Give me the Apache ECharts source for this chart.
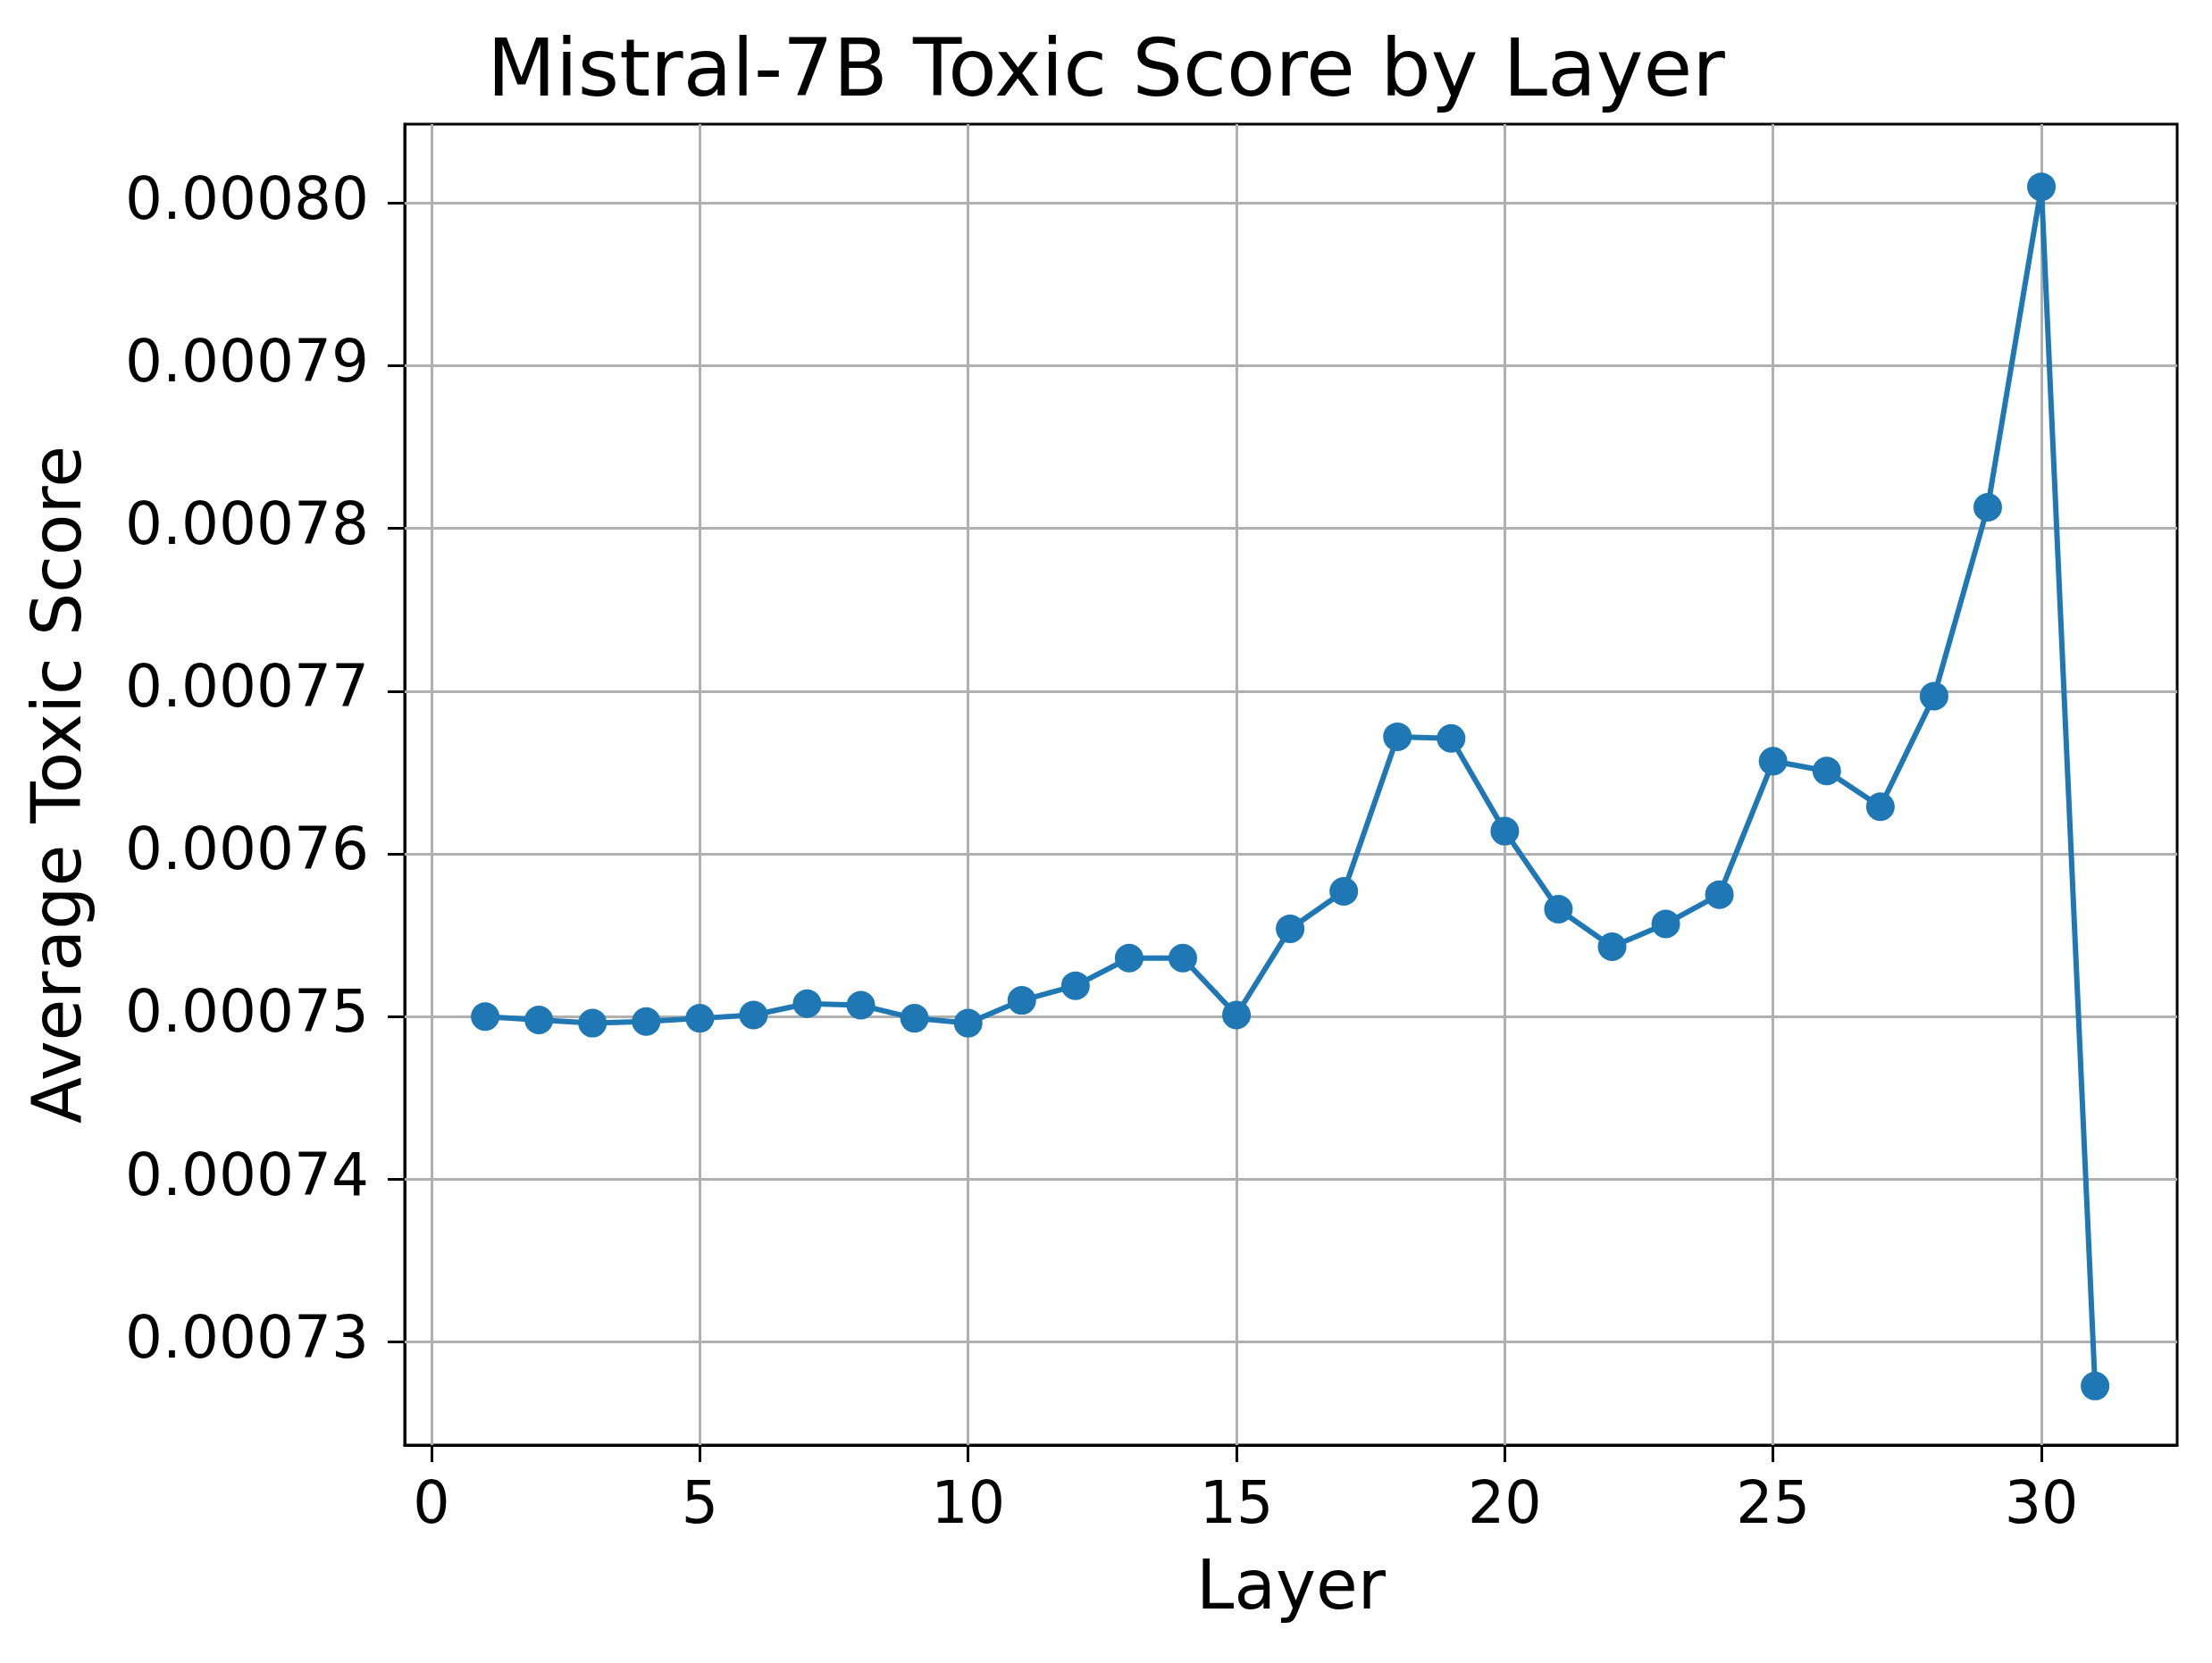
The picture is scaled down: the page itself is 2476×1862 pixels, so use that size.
<!DOCTYPE html>
<html>
<head>
<meta charset="utf-8">
<script src="https://cdn.jsdelivr.net/npm/echarts@6/dist/echarts.min.js"></script>
<style>html,body{margin:0;padding:0;background:#fff}#c{width:2476px;height:1862px}</style>
</head>
<body>
<div id="c"></div>
<script>
// layers and average toxic score
var layers = [];
for (var i = 1; i <= 31; i++) layers.push(i);
var scores = [0.0007500, 0.0007498, 0.0007496, 0.0007497, 0.0007499, 0.0007501, 0.0007508,
    0.0007507, 0.0007499, 0.0007496, 0.0007510, 0.0007519, 0.0007536, 0.0007536, 0.0007501,
    0.0007554, 0.0007577, 0.0007672, 0.0007671, 0.0007614, 0.0007566, 0.0007543, 0.0007557,
    0.0007575, 0.0007657, 0.0007651, 0.0007629, 0.0007697, 0.0007813, 0.0008010, 0.0007273];
var xTicks = [0, 5, 10, 15, 20, 25, 30];
var yTicks = [0.00073, 0.00074, 0.00075, 0.00076, 0.00077, 0.00078, 0.00079, 0.00080];

var xMin = -0.5, xMax = 32.53, yMin = 0.00072367, yMax = 0.00080485;
var font = 'DejaVu Sans';
var gridLines = [];
xTicks.forEach(function (v) { gridLines.push([{coord: [v, yMin]}, {coord: [v, yMax]}]); });
yTicks.forEach(function (v) { gridLines.push([{coord: [xMin, v]}, {coord: [xMax, v]}]); });

var chart = echarts.init(document.getElementById('c'));
chart.setOption({
    animation: false,
    title: {
        text: 'Mistral-7B Toxic Score by Layer',
        left: 'center', top: 34,
        textStyle: {fontFamily: font, fontSize: 89, fontWeight: 'normal', color: '#000'}
    },
    grid: {left: 453, top: 139, width: 1984, height: 1479, show: true,
        borderColor: '#000', borderWidth: 3, backgroundColor: 'transparent'},
    xAxis: {
        type: 'value', min: xMin, max: xMax,
        name: 'Layer', nameLocation: 'middle', nameGap: 125,
        nameTextStyle: {fontFamily: font, fontSize: 76, color: '#000'},
        axisLine: {show: true, onZero: false, lineStyle: {color: '#000', width: 3}},
        axisTick: {show: true, customValues: xTicks, length: 19, lineStyle: {color: '#000', width: 3}},
        axisLabel: {customValues: xTicks, margin: 38, fontFamily: font, fontSize: 65, color: '#000'},
        splitLine: {show: false}
    },
    yAxis: {
        type: 'value', min: yMin, max: yMax,
        name: 'Average Toxic Score', nameLocation: 'middle', nameGap: 345,
        nameTextStyle: {fontFamily: font, fontSize: 76, color: '#000'},
        axisLine: {show: true, onZero: false, lineStyle: {color: '#000', width: 3}},
        axisTick: {show: true, customValues: yTicks, length: 19, lineStyle: {color: '#000', width: 3}},
        axisLabel: {customValues: yTicks, margin: 40, fontFamily: font, fontSize: 66, color: '#000',
            formatter: function (v) { return v.toFixed(5); }},
        splitLine: {show: false}
    },
    series: [{
        type: 'line', data: [], z: 1, silent: true,
        markLine: {
            silent: true, symbol: 'none', label: {show: false},
            lineStyle: {color: '#b0b0b0', width: 3, type: 'solid'},
            data: gridLines
        }
    }, {
        type: 'line', z: 5,
        data: layers.map(function (l, k) { return [l, scores[k]]; }),
        symbol: 'circle', symbolSize: 32,
        itemStyle: {color: '#1f77b4'},
        lineStyle: {color: '#1f77b4', width: 6}
    }]
});
</script>
</body>
</html>
